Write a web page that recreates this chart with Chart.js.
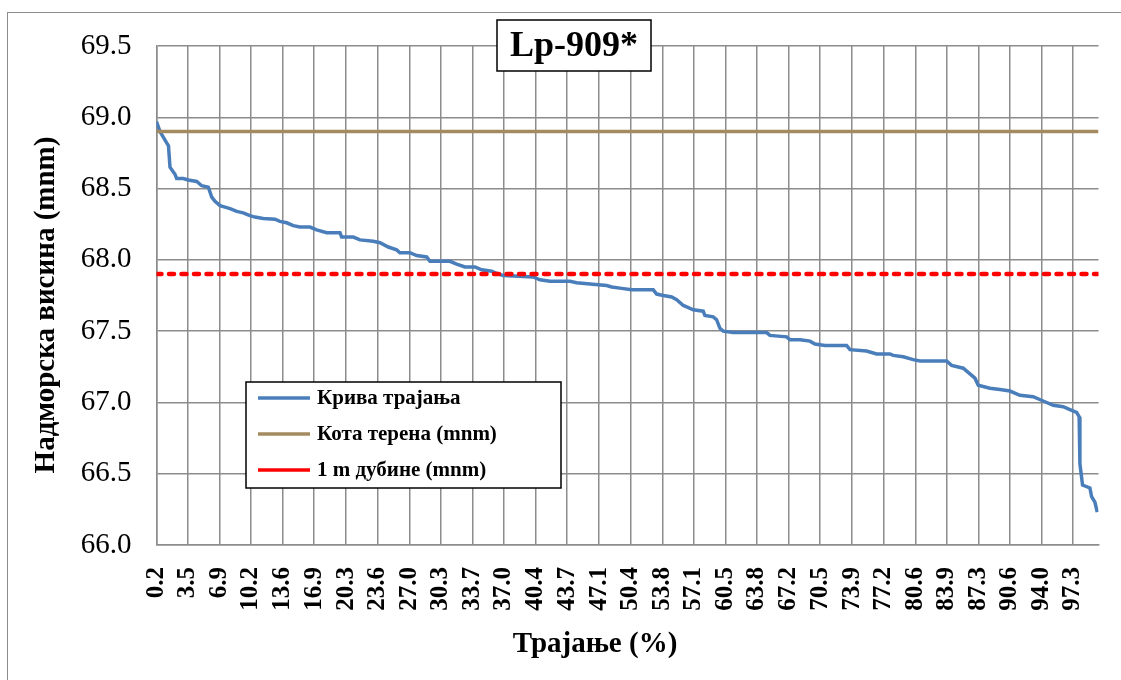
<!DOCTYPE html>
<html>
<head>
<meta charset="utf-8">
<script src="https://cdn.jsdelivr.net/npm/chart.js@4.4.1/dist/chart.umd.min.js"></script>
<style>
    body { margin: 0; background: #fff; }
    #wrap { position: relative; width: 1121px; height: 680px; overflow: hidden; }
    #frame { position: absolute; left: 7px; top: 12px; width: 1200px; height: 800px; border: 1.5px solid #8c8c8c; }
    #chart { position: absolute; left: 0; top: 0; }
</style>
</head>
<body>
<div id="wrap">
    <div id="frame"></div>
    <canvas id="chart" width="1121" height="680"></canvas>
</div>
<script>
const durationPct = [0.2, 0.57, 1.28, 1.47, 1.63, 2.16, 2.34, 3.04, 3.57, 4.46, 4.99, 5.69, 6.05, 6.40, 6.93, 7.46, 7.99, 8.70, 9.39, 10.10,
    10.63, 11.51, 12.75, 13.28, 13.99, 14.69, 15.40, 16.46, 17.17, 18.23, 19.64, 19.82, 21.05, 21.76, 23.17, 23.88, 24.76, 25.64, 25.99, 27.05,
    27.76, 28.82, 29.17, 30.23, 31.29, 32.00, 32.88, 33.94, 34.65, 35.71, 36.41, 36.94, 40.12, 40.82, 41.88, 44.00, 44.71, 46.12, 47.89, 48.42,
    49.48, 50.54, 52.83, 53.19, 53.89, 54.78, 55.31, 56.01, 56.37, 57.06, 58.12, 58.30, 59.18, 59.54, 59.89, 60.24, 61.30, 64.84, 65.19, 66.96,
    67.31, 68.37, 69.43, 69.96, 71.02, 73.31, 73.67, 75.43, 76.49, 77.90, 78.25, 79.31, 80.37, 81.08, 83.91, 84.44, 85.67, 86.38, 86.91, 87.26,
    88.50, 89.56, 90.62, 91.68, 93.08, 94.14, 95.20, 96.26, 96.97, 97.68, 97.95, 98.03, 98.31, 99.09, 99.27, 99.62, 99.87];
const durationLevel = [68.97, 68.90, 68.82, 68.80, 68.65, 68.60, 68.57, 68.57, 68.56, 68.55, 68.52, 68.51, 68.44, 68.41, 68.38, 68.37, 68.36, 68.34, 68.33, 68.31,
    68.30, 68.29, 68.285, 68.27, 68.26, 68.24, 68.23, 68.23, 68.21, 68.19, 68.19, 68.16, 68.16, 68.14, 68.13, 68.12, 68.09, 68.07, 68.05, 68.05,
    68.03, 68.02, 67.99, 67.99, 67.99, 67.97, 67.95, 67.95, 67.93, 67.92, 67.90, 67.89, 67.88, 67.86, 67.85, 67.85, 67.84, 67.83, 67.82, 67.81,
    67.80, 67.79, 67.79, 67.76, 67.75, 67.74, 67.72, 67.68, 67.67, 67.65, 67.64, 67.61, 67.60, 67.58, 67.52, 67.50, 67.49, 67.49, 67.47, 67.46,
    67.44, 67.44, 67.43, 67.41, 67.40, 67.40, 67.37, 67.36, 67.34, 67.34, 67.33, 67.32, 67.30, 67.29, 67.29, 67.26, 67.24, 67.20, 67.17, 67.12,
    67.10, 67.09, 67.08, 67.05, 67.04, 67.01, 66.98, 66.97, 66.95, 66.93, 66.90, 66.57, 66.42, 66.40, 66.34, 66.30, 66.23];
const terrainLevel = 68.9;
const depthLevel = 67.9;
const xRange = [0.2, 100];
const xTicks = [0.2, 3.5, 6.9, 10.2, 13.6, 16.9, 20.3, 23.6, 27.0, 30.3, 33.7, 37.0, 40.4, 43.7, 47.1, 50.4, 53.8, 57.1, 60.5, 63.8,
    67.2, 70.5, 73.9, 77.2, 80.6, 83.9, 87.3, 90.6, 94.0, 97.3];

const seriesNames = ['Крива трајања', 'Кота терена (mnm)', '1 m дубине (mnm)'];
const colors = ['#4a7ebb', '#a38b5f', '#ff0000'];
const serif = "'Liberation Serif', 'Times New Roman', serif";
const gridColor = '#8c8c8c';

const decorations = {
    id: 'decorations',
    afterDraw(chart) {
        const ctx = chart.ctx;
        ctx.save();

        // title box
        ctx.fillStyle = '#fff';
        ctx.fillRect(497, 20, 154, 51);
        ctx.strokeStyle = '#000';
        ctx.lineWidth = 1.5;
        ctx.strokeRect(497, 20, 154, 51);
        ctx.fillStyle = '#000';
        ctx.font = 'bold 36px ' + serif;
        ctx.textAlign = 'center';
        ctx.textBaseline = 'middle';
        ctx.fillText('Lp-909*', 574, 47);

        // legend
        ctx.fillStyle = '#fff';
        ctx.fillRect(246, 382, 315, 106);
        ctx.strokeStyle = '#000';
        ctx.strokeRect(246, 382, 315, 106);
        ctx.font = 'bold 21px ' + serif;
        ctx.textAlign = 'left';
        const rows = [398, 434, 470];
        seriesNames.forEach((name, i) => {
            ctx.strokeStyle = colors[i];
            ctx.lineWidth = 3.5;
            ctx.beginPath();
            ctx.moveTo(258, rows[i]);
            ctx.lineTo(310, rows[i]);
            ctx.stroke();
            ctx.fillStyle = '#000';
            ctx.fillText(name, 317, rows[i] + 1);
        });

        // axis titles
        ctx.font = 'bold 29px ' + serif;
        ctx.textAlign = 'center';
        ctx.fillText('Трајање (%)', 595, 645);
        ctx.translate(47, 305);
        ctx.rotate(-Math.PI / 2);
        ctx.font = 'bold 29px ' + serif;
        ctx.fillText('Надморска висина (mnm)', 0, 0);
        ctx.restore();
    },
};

const flat = (v) => xRange.map(x => ({ x, y: v }));

new Chart(document.getElementById('chart'), {
    type: 'line',
    data: {
        datasets: [
            {
                label: seriesNames[0],
                data: durationPct.map((x, i) => ({ x, y: durationLevel[i] })),
                borderColor: colors[0],
                borderWidth: 3.5,
                order: 3,
            },
            {
                label: seriesNames[1],
                data: flat(terrainLevel),
                borderColor: colors[1],
                borderWidth: 3.5,
                order: 2,
            },
            {
                label: seriesNames[2],
                data: flat(depthLevel),
                borderColor: colors[2],
                borderWidth: 4.5,
                borderDash: [5, 7.5],
                borderCapStyle: 'round',
                order: 1,
            },
        ],
    },
    options: {
        responsive: false,
        animation: false,
        devicePixelRatio: 1,
        elements: { point: { radius: 0 }, line: { tension: 0 } },
        layout: { padding: { top: 46, right: 22.5, left: 0, bottom: 0 } },
        plugins: { legend: { display: false }, tooltip: { enabled: false } },
        scales: {
            x: {
                type: 'linear',
                min: xRange[0],
                max: xRange[1],
                afterBuildTicks: (s) => { s.ticks = xTicks.map(v => ({ value: v })); },
                afterFit: (s) => { s.height = 135; s.paddingLeft = 0; s.paddingRight = 0; },
                grid: { color: gridColor, lineWidth: 1.5, drawTicks: false },
                border: { color: gridColor, width: 1.5 },
                ticks: {
                    autoSkip: false,
                    minRotation: 90,
                    maxRotation: 90,
                    padding: 22,
                    color: '#000',
                    font: { family: serif, size: 25, weight: 'bold' },
                    callback: (v) => Number(v).toFixed(1),
                },
            },
            y: {
                min: 66,
                max: 69.5,
                afterFit: (s) => { s.width = 156.5; },
                grid: { color: gridColor, lineWidth: 1.5, drawTicks: false },
                border: { color: gridColor, width: 1.5 },
                ticks: {
                    stepSize: 0.5,
                    padding: 25,
                    color: '#000',
                    font: { family: serif, size: 29 },
                    callback: (v) => Number(v).toFixed(1),
                },
            },
        },
    },
    plugins: [decorations],
});
</script>
</body>
</html>
